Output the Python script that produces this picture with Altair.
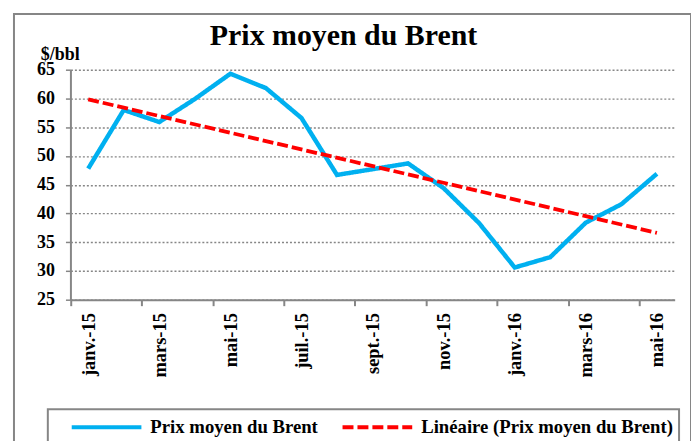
import json
import altair as alt
import pandas as pd

# ---- data ----
months = ["janv.-15", "févr.-15", "mars-15", "avr.-15", "mai-15", "juin-15",
          "juil.-15", "août-15", "sept.-15", "oct.-15", "nov.-15", "déc.-15",
          "janv.-16", "févr.-16", "mars-16", "avr.-16", "mai-16"]
prices = [47.8, 58.0, 55.9, 59.9, 64.3, 61.8, 56.6, 46.7, 47.7, 48.7,
          44.4, 38.3, 30.6, 32.4, 38.4, 41.6, 46.9]
series_names = ["Prix moyen du Brent", "Linéaire (Prix moyen du Brent)"]
y_ticks = [25, 30, 35, 40, 45, 50, 55, 60, 65]
chart_title = "Prix moyen du Brent"
y_unit = "$/bbl"

df = pd.DataFrame({
    "idx": list(range(len(months))),
    "month": months,
    "price": prices,
    "series": series_names[0],
})

FONT = "Liberation Serif"
GRAY = "#868686"

label_vals = list(range(0, len(months), 2))
tick_vals = [v - 0.5 for v in label_vals]
x_vals = sorted(label_vals + tick_vals)
month_js = json.dumps(months, ensure_ascii=False)
label_expr = f"datum.value % 1 == 0 ? {month_js}[datum.value] : ''"

# The frame of the view is the outer chart border; the plot area sits inside it.
x_enc = alt.X(
    "idx:Q",
    scale=alt.Scale(domain=[-0.5, len(months) - 0.5], range=[56.7, 663.6], nice=False, zero=False),
    axis=alt.Axis(
        values=x_vals, labelExpr=label_expr, grid=False, orient="bottom", offset=-153,
        title=chart_title, titleX=330.5, titleY=-256, titleAlign="center", titleBaseline="alphabetic",
        titleFont=FONT, titleFontSize=30, titleFontWeight="bold", titleColor="black",
        domainColor=GRAY, domainWidth=2, tickColor=GRAY, tickWidth=2, tickSize=6,
        tickOpacity={"condition": {"test": "datum.value % 1 != 0", "value": 1}, "value": 0},
        labelAngle=-90, labelFont=FONT, labelFontSize=18.5, labelFontWeight="bold",
        labelColor="black", labelPadding=7, labelFlush=False, labelOverlap=False, labelBound=False,
    ),
)

y_enc = alt.Y(
    "price:Q",
    scale=alt.Scale(domain=[25, 65], range=[287, 56], nice=False, zero=False),
    axis=alt.Axis(
        values=y_ticks, title=y_unit, titleAngle=0, titleAlign="center", titleBaseline="alphabetic",
        titleX=-10.7, titleY=45.5, titleFont=FONT, titleFontSize=18, titleFontWeight="bold",
        titleColor="black", offset=-56.7, grid=True, gridDash=[2, 2], gridColor=GRAY, gridWidth=1.4,
        domainColor=GRAY, domainWidth=2, tickColor=GRAY, tickWidth=1.5, tickSize=5,
        labelFont=FONT, labelFontSize=18, labelFontWeight="bold", labelPadding=11, labelColor="black",
    ),
)

color_enc = alt.Color(
    "series:N",
    scale=alt.Scale(domain=series_names, range=["#00B0F0", "#FF0000"]),
    legend=alt.Legend(title=None),
)
dash_enc = alt.StrokeDash(
    "series:N",
    scale=alt.Scale(domain=series_names, range=[[1, 0], [11, 4]]),
    legend=alt.Legend(title=None),
)

base = alt.Chart(df)

price_line = base.mark_line(strokeWidth=4.5, strokeJoin="miter").encode(
    x=x_enc, y=y_enc, color=color_enc, strokeDash=dash_enc
)

trend_line = base.transform_regression(
    "idx", "price", extent=[0, len(months) - 1]
).transform_calculate(
    series="'" + series_names[1] + "'"
).mark_line(strokeWidth=3.8).encode(
    x=x_enc, y=y_enc, color=color_enc, strokeDash=dash_enc
)

chart = alt.layer(price_line, trend_line).properties(
    width=680,
    height=440,
    background="white",
    padding={"left": 6, "top": 5, "right": 0, "bottom": 0},
).configure_view(
    stroke=GRAY, strokeWidth=2, fill="white"
).configure_legend(
    orient="none", legendX=34, legendY=397, direction="horizontal",
    symbolType="stroke", symbolSize=4900, symbolStrokeWidth=4, clipHeight=24,
    symbolOffset=16,
    labelFont=FONT, labelFontSize=18.8, labelFontWeight="bold", labelColor="black",
    labelOffset=7, labelLimit=400, columnPadding=6, padding=6,
    strokeColor=GRAY, strokeWidth=2,
)

chart.save("out.html", embed_options={"renderer": "svg", "actions": False})
